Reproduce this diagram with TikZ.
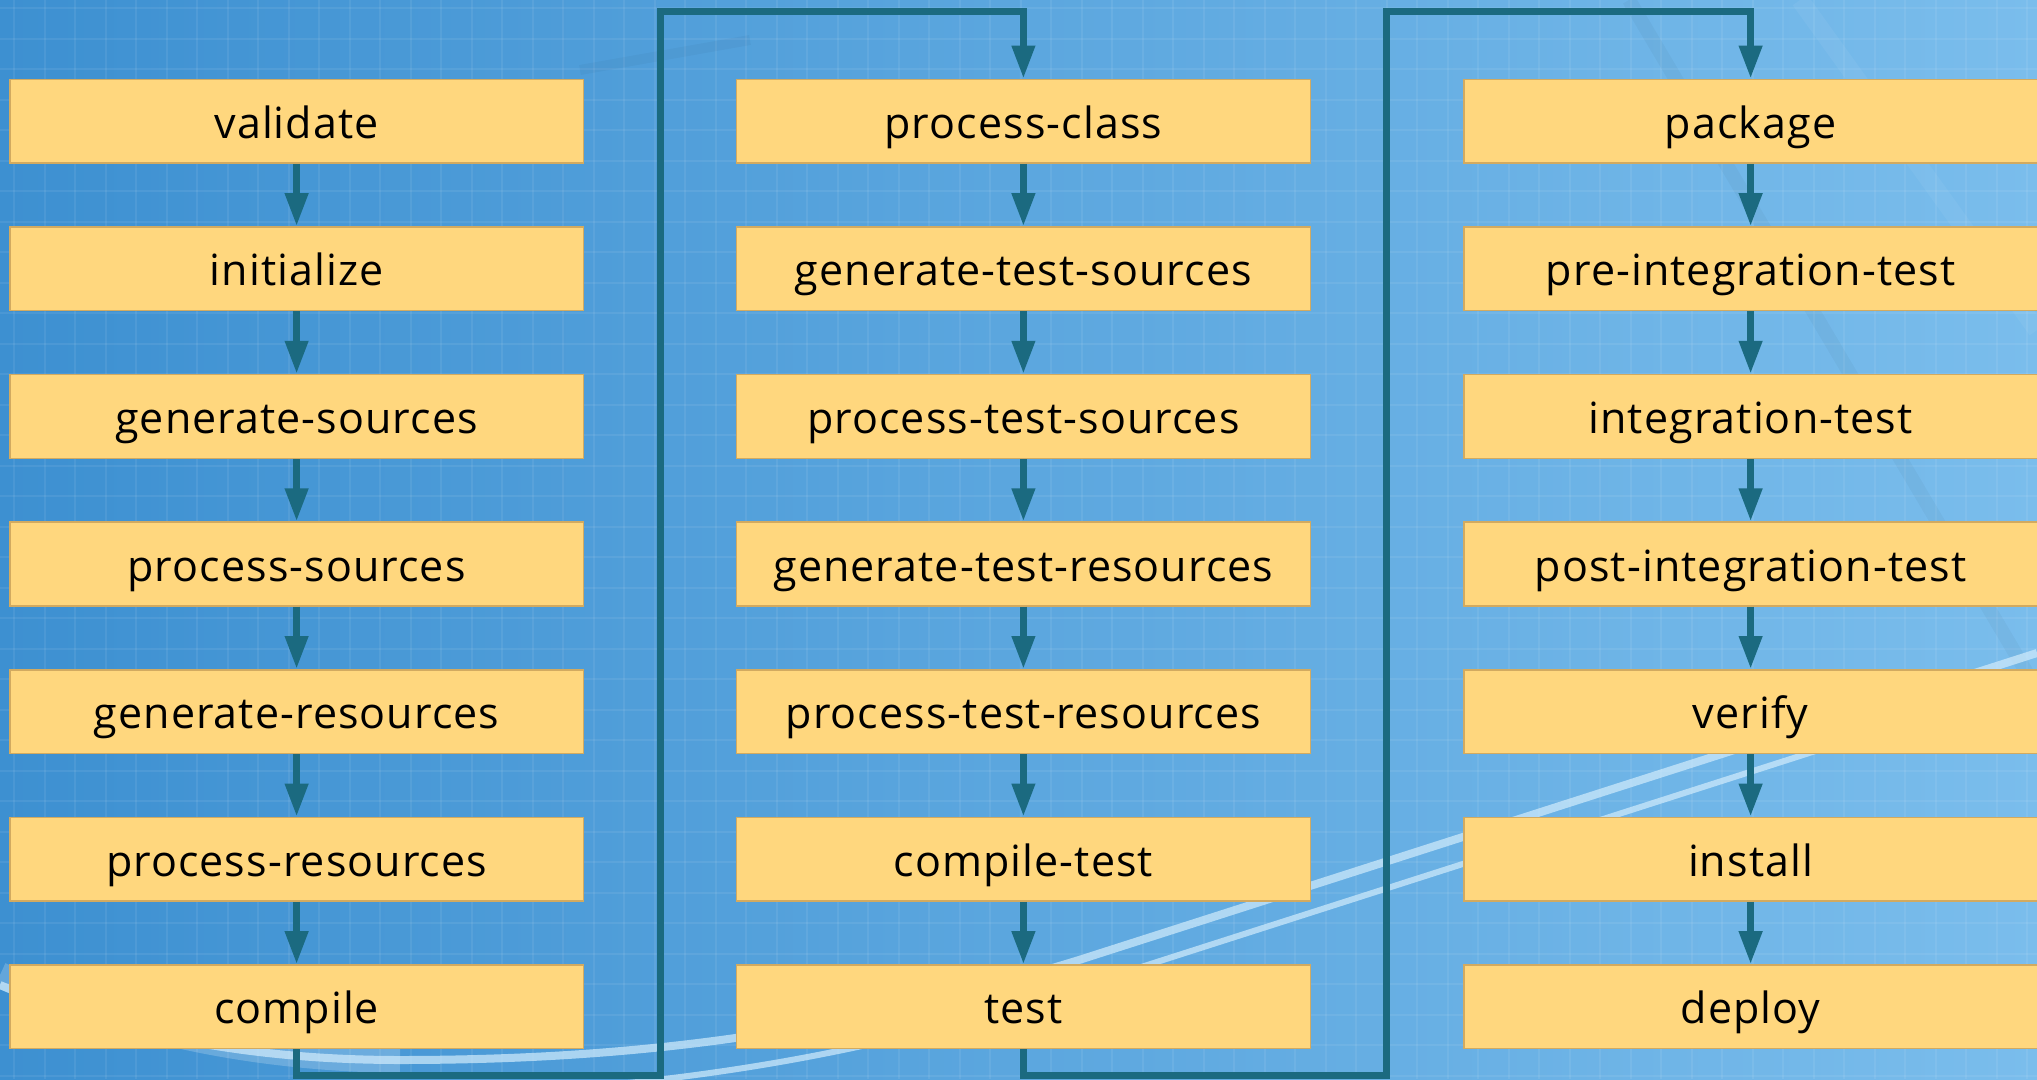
\documentclass[tikz,border=0pt]{standalone}
\usepackage{fontspec}
\newfontfamily\boxfont[LetterSpace=2.5]{Open Sans}
\usetikzlibrary{arrows.meta}

\definecolor{flowline}{HTML}{1B6A80}
\definecolor{boxfill}{HTML}{FFD77E}
\definecolor{boxedge}{HTML}{D2AA60}
\definecolor{bgleft}{HTML}{3D90D1}
\definecolor{bgmid}{HTML}{66AFE6}
\definecolor{bgright}{HTML}{7ABDEC}
\definecolor{streak}{HTML}{D2ECFC}

\begin{document}
\begin{tikzpicture}[x=1pt,y=-1pt,
  phase/.style={draw=boxedge, line width=1.5pt, fill=boxfill,
    minimum width=573.7pt, minimum height=83.7pt, inner sep=0pt,
    text height=40pt, text depth=6pt,
    font=\boxfont\fontsize{43}{50}\selectfont},
  flow/.style={draw=flowline, line width=7pt,
    -{Triangle[length=33pt,width=22pt]}},
  gridline/.style={white, opacity=0.07, line width=2pt},
  glint/.style={streak, opacity=0.7},
]
% background
\useasboundingbox (0,0) rectangle (2037,1079);
\begin{scope}
\clip (0,0) rectangle (2037,1079);
\shade[left color=bgleft, middle color=bgmid, right color=bgright]
  (0,0) rectangle (2037,1079);
\foreach \gx in {14,44.5,...,2040} \draw[gridline] (\gx,0) -- (\gx,1079);
\foreach \gy in {8,38.5,...,1080} \draw[gridline] (0,\gy) -- (2037,\gy);
% soft diagonal streaks
\draw[black, opacity=0.03, line width=14pt] (1629,0) -- (2037,690);
\draw[black, opacity=0.03, line width=10pt] (580,70) -- (750,40);
\draw[white, opacity=0.05, line width=18pt] (1800,0) -- (2037,330);
% curved light streaks
\draw[white, opacity=0.2, line width=26pt]
  (0,975) .. controls (120,1030) and (250,1058) .. (400,1060);
\draw[glint, line width=8pt]
  (0,985) .. controls (120,1035) and (250,1060) .. (400,1060)
  .. controls (650,1060) and (850,1030) .. (1079,960) -- (2037,653);
\draw[glint, line width=6pt]
  (450,1095) .. controls (750,1085) and (950,1030) .. (1110,977) -- (2037,680);
\end{scope}

% first column
\node[phase] (validate) at (296.6,121.2) {validate};
\node[phase] (initialize) at (296.6,268.8) {initialize};
\node[phase] (gensrc) at (296.6,416.4) {generate-sources};
\node[phase] (procsrc) at (296.6,564.0) {process-sources};
\node[phase] (genres) at (296.6,711.6) {generate-resources};
\node[phase] (procres) at (296.6,859.2) {process-resources};
\node[phase] (compile) at (296.6,1006.8) {compile};

% second column
\node[phase] (procclass) at (1023.4,121.2) {process-class};
\node[phase] (gentestsrc) at (1023.4,268.8) {generate-test-sources};
\node[phase] (proctestsrc) at (1023.4,416.4) {process-test-sources};
\node[phase] (gentestres) at (1023.4,564.0) {generate-test-resources};
\node[phase] (proctestres) at (1023.4,711.6) {process-test-resources};
\node[phase] (compiletest) at (1023.4,859.2) {compile-test};
\node[phase] (test) at (1023.4,1006.8) {test};

% third column
\node[phase] (package) at (1750.6,121.2) {package};
\node[phase] (preit) at (1750.6,268.8) {pre-integration-test};
\node[phase] (it) at (1750.6,416.4) {integration-test};
\node[phase] (postit) at (1750.6,564.0) {post-integration-test};
\node[phase] (verify) at (1750.6,711.6) {verify};
\node[phase] (install) at (1750.6,859.2) {install};
\node[phase] (deploy) at (1750.6,1006.8) {deploy};

% arrows inside each column
\foreach \a/\b in {validate/initialize, initialize/gensrc, gensrc/procsrc,
    procsrc/genres, genres/procres, procres/compile,
    procclass/gentestsrc, gentestsrc/proctestsrc, proctestsrc/gentestres,
    gentestres/proctestres, proctestres/compiletest, compiletest/test,
    package/preit, preit/it, it/postit, postit/verify, verify/install,
    install/deploy}
  \draw[flow] (\a.south) -- (\b.north);

% links from the foot of one column to the head of the next
\coordinate (loopAbot) at (660,1075);
\coordinate (loopAtop) at (660,11);
\coordinate (loopBbot) at (1386,1075);
\coordinate (loopBtop) at (1386,11);
\draw[flow] (compile.south) |- (loopAbot) -- (loopAtop) -| (procclass.north);
\draw[flow] (test.south) |- (loopBbot) -- (loopBtop) -| (package.north);
\end{tikzpicture}
\end{document}
